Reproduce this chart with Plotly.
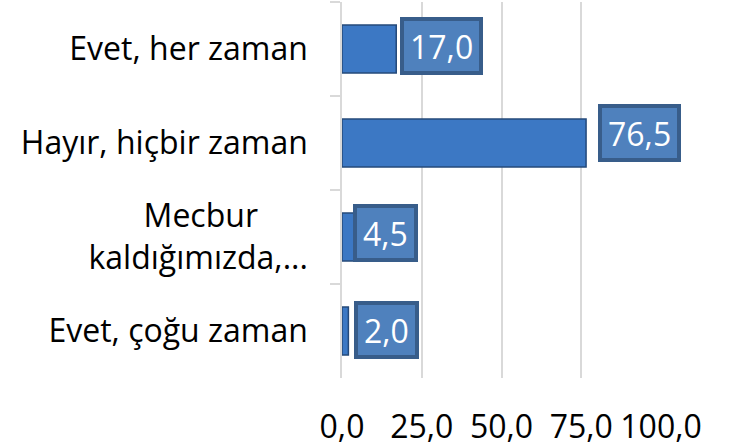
import plotly.graph_objects as go

# ---- data ----
categories = ["Evet, her zaman", "Hayır, hiçbir zaman",
              "Mecbur" + "\u00a0" * 6 + "<br>kaldığımızda,...", "Evet, çoğu zaman"]
values = [17.0, 76.5, 4.5, 2.0]
x_ticks = [0, 25, 50, 75, 100]

# ---- style ----
FONT = "Open Sans"
FS = 32
bar_color = "#3c78c4"
bar_line = "#24497a"
label_fill = "#4f81bd"
label_border = "#385d8a"
grid_color = "#d9d9d9"
# pixel nudges of the value boxes (xshift, yshift)
nudges = [(4, 3), (12, 10), (-3, 4), (6, 1)]

fig = go.Figure()
fig.add_trace(go.Bar(
    y=categories, x=values, orientation="h",
    marker=dict(color=bar_color, line=dict(color=bar_line, width=1.5)),
    hoverinfo="skip",
))

for cat, v, (dx, dy) in zip(categories, values, nudges):
    fig.add_annotation(
        x=v, y=cat, xref="x", yref="y",
        text=f"{v:.1f}".replace(".", ","),
        showarrow=False, xanchor="left", yanchor="middle",
        xshift=dx, yshift=dy, height=38,
        font=dict(family=FONT, size=FS, color="white"),
        bgcolor=label_fill, bordercolor=label_border,
        borderwidth=4, borderpad=6,
    )

fig.update_layout(
    width=730, height=447,
    margin=dict(l=342, r=68, t=2, b=69),
    paper_bgcolor="white", plot_bgcolor="white",
    separators=",.",
    showlegend=False,
    bargap=0.49,
    font=dict(family=FONT, size=FS, color="black"),
)
fig.update_xaxes(
    range=[0, 100.3], tickvals=x_ticks, tickformat=".1f",
    showgrid=True, gridcolor=grid_color, gridwidth=1.5,
    zeroline=False, showline=False, ticks="",
    ticklabelstandoff=27, automargin=False,
    tickfont=dict(family=FONT, size=FS, color="black"),
)
fig.update_yaxes(
    categoryorder="array", categoryarray=categories, autorange="reversed",
    showline=True, linecolor=grid_color, linewidth=1.5,
    ticks="outside", tickson="boundaries", ticklen=10, tickcolor=grid_color, tickwidth=1.5,
    showgrid=False, zeroline=False,
    ticklabelstandoff=26, automargin=False,
    tickfont=dict(family=FONT, size=FS, color="black"),
)

fig.write_html(
    "out.html",
    config={"displayModeBar": False},
    post_script="document.body.style.margin='0';document.body.style.overflow='hidden';",
)
